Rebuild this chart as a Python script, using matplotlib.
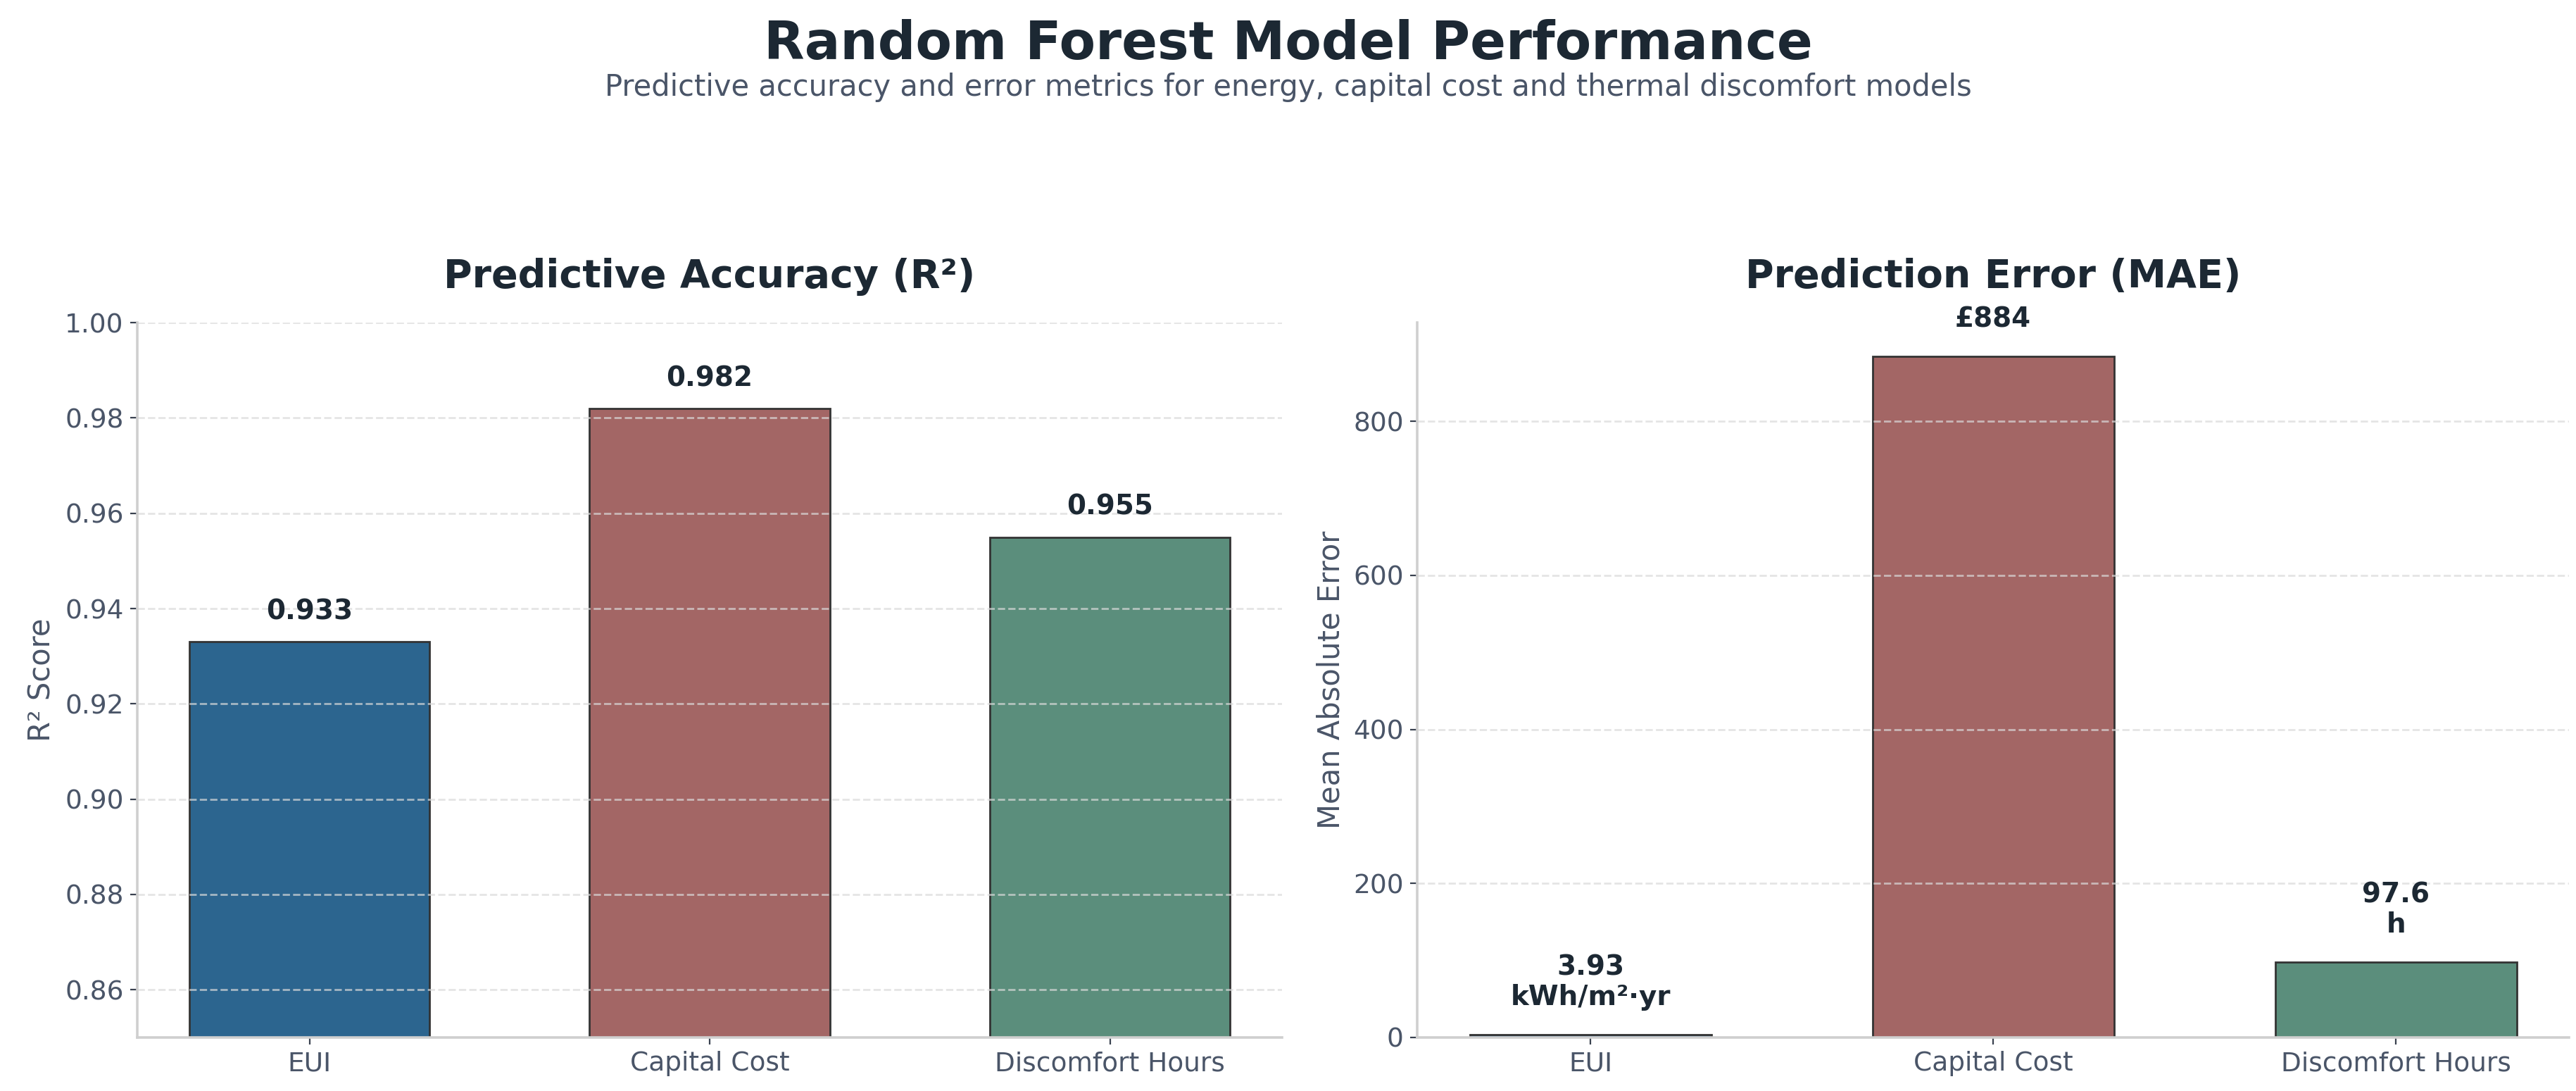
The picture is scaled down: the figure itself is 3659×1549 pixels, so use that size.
import matplotlib
matplotlib.use("Agg")
import matplotlib.pyplot as plt

# data
metrics = ["EUI", "Capital Cost", "Discomfort Hours"]
r2_scores = [0.933, 0.982, 0.955]
mae_values = [3.93, 884, 97.6]
mae_labels = ["3.93\nkWh/m²·yr", "£884", "97.6\nh"]

bar_colors = ["#2c658f", "#a36665", "#5b8e7c"]
dark = "#1c2833"
slate = "#4a5568"
spine_col = "#cfcfcf"

plt.rcParams["font.family"] = ["DejaVu Sans"]

fig = plt.figure(figsize=(18.295, 7.745), dpi=200)

ax1 = fig.add_axes([0.0533, 0.0491, 0.4444, 0.6552])
ax2 = fig.add_axes([0.5502, 0.0491, 0.4471, 0.6552])


def style_axes(ax):
    for s in ["top", "right"]:
        ax.spines[s].set_visible(False)
    for s in ["left", "bottom"]:
        ax.spines[s].set_color(spine_col)
        ax.spines[s].set_linewidth(1.3)
    ax.tick_params(axis="both", labelsize=13.5, colors="#3a4250", labelcolor=slate)
    ax.grid(True, axis="y", linestyle="--", color="#dadada", alpha=0.7, linewidth=1.0)


# left: R2
x = range(len(metrics))
ax1.bar(x, r2_scores, width=0.6, color=bar_colors, edgecolor="#333333", linewidth=1.0)
ax1.set_ylim(0.85, 1.0)
ax1.set_xticks(list(x))
ax1.set_xticklabels(metrics)
ax1.set_ylabel("R² Score", fontsize=15, color=slate)
ax1.set_title("Predictive Accuracy (R²)", fontsize=20, fontweight="bold", color=dark, pad=18)
style_axes(ax1)
for i, v in enumerate(r2_scores):
    ax1.text(i, v + 0.0035, f"{v:.3f}", ha="center", va="bottom",
             fontsize=14, fontweight="bold", color=dark)

# right: MAE
ax2.bar(x, mae_values, width=0.6, color=bar_colors, edgecolor="#333333", linewidth=1.0)
ax2.set_ylim(0, max(mae_values) * 1.05)
ax2.set_xticks(list(x))
ax2.set_xticklabels(metrics)
ax2.set_ylabel("Mean Absolute Error", fontsize=15, color=slate)
ax2.set_title("Prediction Error (MAE)", fontsize=20, fontweight="bold", color=dark, pad=18)
style_axes(ax2)
for i, (v, lab) in enumerate(zip(mae_values, mae_labels)):
    ax2.text(i, v + max(mae_values) * 0.035, lab, ha="center", va="bottom",
             multialignment="center", fontsize=14, fontweight="bold", color=dark,
             linespacing=1.15)

fig.text(0.5, 0.946, "Random Forest Model Performance", ha="center", va="baseline",
         fontsize=27, fontweight="bold", color=dark)
fig.text(0.5, 0.912,
         "Predictive accuracy and error metrics for energy, capital cost and thermal discomfort models",
         ha="center", va="baseline", fontsize=15, color=slate)

fig.savefig("out.png", dpi=200)
